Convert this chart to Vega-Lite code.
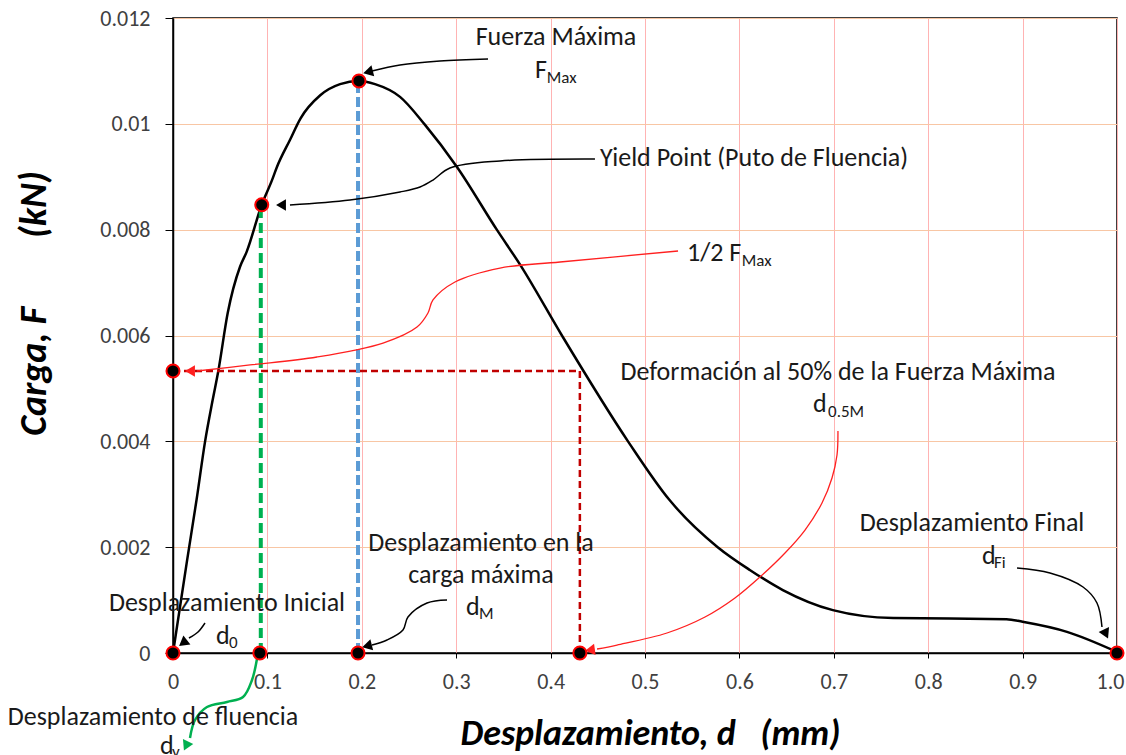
{
  "$schema": "https://vega.github.io/schema/vega-lite/v6.json",
  "width": 944,
  "height": 635,
  "autosize": "none",
  "padding": {"left": 173, "top": 18, "right": 9, "bottom": 102},
  "background": "white",
  "config": {
    "view": {"stroke": "#000", "strokeWidth": 1.5},
    "font": "Carlito, Lato, sans-serif"
  },
  "datasets": {
    "curve": [
      {"x": 0, "y": 0},
      {"x": 0.015, "y": 0.00176},
      {"x": 0.025, "y": 0.0029},
      {"x": 0.034, "y": 0.004},
      {"x": 0.042, "y": 0.00478},
      {"x": 0.048, "y": 0.00533},
      {"x": 0.058, "y": 0.00643},
      {"x": 0.071, "y": 0.0073},
      {"x": 0.078, "y": 0.00758},
      {"x": 0.094, "y": 0.00847},
      {"x": 0.105, "y": 0.00894},
      {"x": 0.11, "y": 0.00918},
      {"x": 0.124, "y": 0.0097},
      {"x": 0.135, "y": 0.0101},
      {"x": 0.156, "y": 0.01054},
      {"x": 0.177, "y": 0.01075},
      {"x": 0.197, "y": 0.01081},
      {"x": 0.214, "y": 0.01075},
      {"x": 0.2405, "y": 0.01051},
      {"x": 0.267, "y": 0.00998},
      {"x": 0.301, "y": 0.00918},
      {"x": 0.343, "y": 0.008},
      {"x": 0.368, "y": 0.00733},
      {"x": 0.412, "y": 0.006},
      {"x": 0.482, "y": 0.004},
      {"x": 0.526, "y": 0.00289},
      {"x": 0.577, "y": 0.002},
      {"x": 0.611, "y": 0.00157},
      {"x": 0.646, "y": 0.00119},
      {"x": 0.699, "y": 0.00081},
      {"x": 0.763, "y": 0.00066},
      {"x": 0.883, "y": 0.00064},
      {"x": 0.9, "y": 0.00059},
      {"x": 0.947, "y": 0.0004},
      {"x": 1.0, "y": 0.00002}
    ],
    "guides": [
      {"g": "fluencia", "i": 0, "x": 0.093, "y": 0},
      {"g": "fluencia", "i": 1, "x": 0.093, "y": 0.00847},
      {"g": "maxima", "i": 0, "x": 0.196, "y": 0},
      {"g": "maxima", "i": 1, "x": 0.196, "y": 0.01081},
      {"g": "mitad", "i": 0, "x": 0, "y": 0.00533},
      {"g": "mitad", "i": 1, "x": 0.431, "y": 0.00533},
      {"g": "mitad", "i": 2, "x": 0.431, "y": 0}
    ],
    "arrows": [
      {"a": "Fmax", "i": 0, "x": 0.3337, "y": 0.011225},
      {"a": "Fmax", "i": 1, "x": 0.2828, "y": 0.011187},
      {"a": "Fmax", "i": 2, "x": 0.2405, "y": 0.011112},
      {"a": "Fmax", "i": 3, "x": 0.2108, "y": 0.010998},
      {"a": "yield", "i": 0, "x": 0.447, "y": 0.009335},
      {"a": "yield", "i": 1, "x": 0.3464, "y": 0.009298},
      {"a": "yield", "i": 2, "x": 0.2934, "y": 0.009165},
      {"a": "yield", "i": 3, "x": 0.2754, "y": 0.008938},
      {"a": "yield", "i": 4, "x": 0.2617, "y": 0.008806},
      {"a": "yield", "i": 5, "x": 0.2405, "y": 0.008712},
      {"a": "yield", "i": 6, "x": 0.1875, "y": 0.00856},
      {"a": "yield", "i": 7, "x": 0.1239, "y": 0.008466},
      {"a": "half", "i": 0, "x": 0.535, "y": 0.007597},
      {"a": "half", "i": 1, "x": 0.41, "y": 0.007389},
      {"a": "half", "i": 2, "x": 0.3464, "y": 0.007275},
      {"a": "half", "i": 3, "x": 0.2987, "y": 0.007011},
      {"a": "half", "i": 4, "x": 0.2754, "y": 0.006671},
      {"a": "half", "i": 5, "x": 0.2701, "y": 0.006425},
      {"a": "half", "i": 6, "x": 0.2585, "y": 0.00616},
      {"a": "half", "i": 7, "x": 0.2225, "y": 0.005858},
      {"a": "half", "i": 8, "x": 0.1525, "y": 0.005594},
      {"a": "half", "i": 9, "x": 0.0816, "y": 0.005443},
      {"a": "half", "i": 10, "x": 0.0254, "y": 0.005329},
      {"a": "d05", "i": 0, "x": 0.7044, "y": 0.004195},
      {"a": "d05", "i": 1, "x": 0.7034, "y": 0.003742},
      {"a": "d05", "i": 2, "x": 0.6981, "y": 0.003307},
      {"a": "d05", "i": 3, "x": 0.6875, "y": 0.002835},
      {"a": "d05", "i": 4, "x": 0.6695, "y": 0.002324},
      {"a": "d05", "i": 5, "x": 0.6483, "y": 0.00189},
      {"a": "d05", "i": 6, "x": 0.6218, "y": 0.001436},
      {"a": "d05", "i": 7, "x": 0.5953, "y": 0.001039},
      {"a": "d05", "i": 8, "x": 0.5636, "y": 0.00068},
      {"a": "d05", "i": 9, "x": 0.5233, "y": 0.000378},
      {"a": "d05", "i": 10, "x": 0.4703, "y": 0.000151},
      {"a": "d05", "i": 11, "x": 0.4492, "y": 0.0000756},
      {"a": "dFi", "i": 0, "x": 0.8941, "y": 0.001606},
      {"a": "dFi", "i": 1, "x": 0.929, "y": 0.001512},
      {"a": "dFi", "i": 2, "x": 0.964, "y": 0.001247},
      {"a": "dFi", "i": 3, "x": 0.9788, "y": 0.000945},
      {"a": "dFi", "i": 4, "x": 0.9841, "y": 0.000491},
      {"a": "dM", "i": 0, "x": 0.2903, "y": 0.001002},
      {"a": "dM", "i": 1, "x": 0.2691, "y": 0.000945},
      {"a": "dM", "i": 2, "x": 0.2489, "y": 0.00068},
      {"a": "dM", "i": 3, "x": 0.2436, "y": 0.000435},
      {"a": "dM", "i": 4, "x": 0.2267, "y": 0.000246},
      {"a": "dM", "i": 5, "x": 0.2108, "y": 0.000151},
      {"a": "d0", "i": 0, "x": 0.0339, "y": 0.000567},
      {"a": "d0", "i": 1, "x": 0.0265, "y": 0.000397},
      {"a": "d0", "i": 2, "x": 0.0169, "y": 0.000283},
      {"a": "dy", "i": 0, "x": 0.09, "y": 0},
      {"a": "dy", "i": 1, "x": 0.0837, "y": -0.00051},
      {"a": "dy", "i": 2, "x": 0.0742, "y": -0.000831},
      {"a": "dy", "i": 3, "x": 0.0572, "y": -0.000926},
      {"a": "dy", "i": 4, "x": 0.036, "y": -0.00102},
      {"a": "dy", "i": 5, "x": 0.0233, "y": -0.001266},
      {"a": "dy", "i": 6, "x": 0.018, "y": -0.001606}
    ],
    "heads": [
      {"a": "Fmax", "x": 0.2066, "y": 0.01098},
      {"a": "yield", "x": 0.1144, "y": 0.008466},
      {"a": "half", "x": 0.018, "y": 0.005329},
      {"a": "d05", "x": 0.4417, "y": 0.0000567},
      {"a": "dFi", "x": 0.9883, "y": 0.000359},
      {"a": "dM", "x": 0.2055, "y": 0.000132},
      {"a": "d0", "x": 0.0106, "y": 0.000189},
      {"a": "dy", "x": 0.0138, "y": -0.001757}
    ],
    "points": [
      {"x": 0, "y": 0},
      {"x": 0.092, "y": 0},
      {"x": 0.196, "y": 0},
      {"x": 0.431, "y": 0},
      {"x": 1.0, "y": 0},
      {"x": 0, "y": 0.00533},
      {"x": 0.094, "y": 0.00847},
      {"x": 0.197, "y": 0.01081}
    ],
    "labels": [
      {"r": "c", "t": "Fuerza Máxima", "x": 0.4057, "y": 0.01164},
      {"r": "l", "t": "F", "x": 0.3835, "y": 0.01102},
      {"r": "s", "t": "Max", "x": 0.396, "y": 0.01087},
      {"r": "l", "t": "Yield Point (Puto de Fluencia)", "x": 0.4523, "y": 0.009354},
      {"r": "l", "t": "1/2 F", "x": 0.5445, "y": 0.00756},
      {"r": "s", "t": "Max", "x": 0.6025, "y": 0.00741},
      {"r": "c", "t": "Deformación al 50% de la Fuerza Máxima", "x": 0.7044, "y": 0.00531},
      {"r": "l", "t": "d", "x": 0.678, "y": 0.004705},
      {"r": "s", "t": "0.5M", "x": 0.6939, "y": 0.004554},
      {"r": "c", "t": "Desplazamiento Final", "x": 0.8464, "y": 0.002457},
      {"r": "l", "t": "d", "x": 0.857, "y": 0.001833},
      {"r": "s", "t": "Fi", "x": 0.8697, "y": 0.001701},
      {"r": "c", "t": "Desplazamiento en la", "x": 0.3263, "y": 0.002079},
      {"r": "c", "t": "carga máxima", "x": 0.3263, "y": 0.001474},
      {"r": "l", "t": "d", "x": 0.3104, "y": 0.000869},
      {"r": "s", "t": "M", "x": 0.3242, "y": 0.000737},
      {"r": "c", "t": "Desplazamiento Inicial", "x": 0.0572, "y": 0.000945},
      {"r": "l", "t": "d", "x": 0.0455, "y": 0.000321},
      {"r": "s", "t": "0", "x": 0.0593, "y": 0.000189},
      {"r": "c", "t": "Desplazamiento de fluencia", "x": -0.0212, "y": -0.00121},
      {"r": "l", "t": "d", "x": -0.0138, "y": -0.00176},
      {"r": "s", "t": "y", "x": -0.001, "y": -0.00188}
    ]
  },
  "encoding": {
    "x": {
      "field": "x",
      "type": "quantitative",
      "scale": {"domain": [0, 1], "nice": false, "zero": false},
      "axis": {
        "values": [0, 0.1, 0.2, 0.3, 0.4, 0.5, 0.6, 0.7, 0.8, 0.9, 1],
        "labelExpr": "datum.value == 1 ? '1.0' : format(datum.value, '~g')",
        "labelOffset": {"condition": {"test": "datum.value == 1", "value": -7}, "value": 0},
        "grid": true,
        "gridColor": "#FFB3B3",
        "gridWidth": 1,
        "domainColor": "#000",
        "domainWidth": 1.5,
        "tickColor": "#000",
        "tickSize": 5,
        "labelFontSize": 22,
        "labelColor": "#404040",
        "labelPadding": 13,
        "labelFlush": false,
        "title": "Desplazamiento,\u00a0d\u00a0\u00a0\u00a0(mm)",
        "titleFontSize": 36,
        "titleFontStyle": "italic",
        "titleFontWeight": "bold",
        "titleColor": "#000",
        "titleX": 477,
        "titleY": 80,
        "titleAlign": "center",
        "titleBaseline": "middle"
      }
    },
    "y": {
      "field": "y",
      "type": "quantitative",
      "scale": {"domain": [0, 0.012], "nice": false, "zero": false},
      "axis": {
        "values": [0, 0.002, 0.004, 0.006, 0.008, 0.01, 0.012],
        "format": "~g",
        "grid": true,
        "gridColor": "#F8C6A4",
        "gridWidth": 1,
        "domainColor": "#000",
        "domainWidth": 1.5,
        "tickColor": "#000",
        "tickSize": 8,
        "labelFontSize": 22,
        "labelColor": "#404040",
        "labelPadding": 15,
        "labelFlush": false,
        "title": "Carga,\u00a0F\u00a0\u00a0\u00a0\u00a0\u00a0\u00a0\u00a0\u00a0(kN)",
        "titleFontSize": 38,
        "titleFontStyle": "italic",
        "titleFontWeight": "bold",
        "titleColor": "#000",
        "titleAngle": -90,
        "titleX": -139,
        "titleY": 285,
        "titleAlign": "center",
        "titleBaseline": "middle"
      }
    }
  },
  "layer": [
    {
      "data": {"name": "curve"},
      "mark": {"type": "line", "color": "#000", "strokeWidth": 2.5, "interpolate": "monotone"},
      "encoding": {}
    },
    {
      "data": {"name": "guides"},
      "transform": [{"filter": "datum.g == 'fluencia'"}],
      "mark": {"type": "line", "color": "#00B050", "strokeWidth": 4, "strokeDash": [10, 5]},
      "encoding": {"order": {"field": "i"}}
    },
    {
      "data": {"name": "guides"},
      "transform": [{"filter": "datum.g == 'maxima'"}],
      "mark": {"type": "line", "color": "#5B9BD5", "strokeWidth": 4, "strokeDash": [10, 4]},
      "encoding": {"order": {"field": "i"}}
    },
    {
      "data": {"name": "guides"},
      "transform": [{"filter": "datum.g == 'mitad'"}],
      "mark": {"type": "line", "color": "#C00000", "strokeWidth": 2.5, "strokeDash": [7, 4]},
      "encoding": {"order": {"field": "i"}}
    },
    {
      "data": {"name": "arrows"},
      "transform": [{"filter": "indexof(['Fmax','yield','dFi','dM','d0'], datum.a) >= 0"}],
      "mark": {"type": "line", "color": "#000", "strokeWidth": 1.5, "interpolate": "catmull-rom"},
      "encoding": {"detail": {"field": "a"}, "order": {"field": "i"}}
    },
    {
      "data": {"name": "arrows"},
      "transform": [{"filter": "datum.a == 'half' || datum.a == 'd05'"}],
      "mark": {"type": "line", "color": "#FF2020", "strokeWidth": 1.3, "interpolate": "catmull-rom"},
      "encoding": {"detail": {"field": "a"}, "order": {"field": "i"}}
    },
    {
      "data": {"name": "arrows"},
      "transform": [{"filter": "datum.a == 'dy'"}],
      "mark": {"type": "line", "color": "#00B050", "strokeWidth": 2.5, "interpolate": "catmull-rom"},
      "encoding": {"order": {"field": "i"}}
    },
    {
      "data": {"name": "heads"},
      "transform": [{"filter": "datum.a == 'Fmax' || datum.a == 'dM'"}],
      "mark": {"type": "point", "shape": "triangle-left", "filled": true, "color": "#000", "size": 130, "angle": -14, "opacity": 1},
      "encoding": {}
    },
    {
      "data": {"name": "heads"},
      "transform": [{"filter": "datum.a == 'yield'"}],
      "mark": {"type": "point", "shape": "triangle-left", "filled": true, "color": "#000", "size": 130, "angle": 0, "opacity": 1},
      "encoding": {}
    },
    {
      "data": {"name": "heads"},
      "transform": [{"filter": "datum.a == 'd0'"}],
      "mark": {"type": "point", "shape": "triangle-left", "filled": true, "color": "#000", "size": 130, "angle": -38, "opacity": 1},
      "encoding": {}
    },
    {
      "data": {"name": "heads"},
      "transform": [{"filter": "datum.a == 'dFi'"}],
      "mark": {"type": "point", "shape": "triangle-down", "filled": true, "color": "#000", "size": 130, "angle": -25, "opacity": 1},
      "encoding": {}
    },
    {
      "data": {"name": "heads"},
      "transform": [{"filter": "datum.a == 'half'"}],
      "mark": {"type": "point", "shape": "triangle-left", "filled": true, "color": "#FF2020", "size": 130, "angle": 0, "opacity": 1},
      "encoding": {}
    },
    {
      "data": {"name": "heads"},
      "transform": [{"filter": "datum.a == 'd05'"}],
      "mark": {"type": "point", "shape": "triangle-left", "filled": true, "color": "#FF2020", "size": 130, "angle": -8, "opacity": 1},
      "encoding": {}
    },
    {
      "data": {"name": "heads"},
      "transform": [{"filter": "datum.a == 'dy'"}],
      "mark": {"type": "point", "shape": "triangle-down", "filled": true, "color": "#00B050", "size": 130, "angle": 25, "opacity": 1},
      "encoding": {}
    },
    {
      "data": {"name": "points"},
      "mark": {"type": "point", "shape": "circle", "filled": true, "fill": "#000", "stroke": "#FF0000", "strokeWidth": 2, "size": 170, "opacity": 1},
      "encoding": {}
    },
    {
      "data": {"name": "labels"},
      "transform": [{"filter": "datum.r == 'c'"}],
      "mark": {"type": "text", "align": "center", "baseline": "middle", "fontSize": 26, "color": "#1a1a1a"},
      "encoding": {"text": {"field": "t"}}
    },
    {
      "data": {"name": "labels"},
      "transform": [{"filter": "datum.r == 'l'"}],
      "mark": {"type": "text", "align": "left", "baseline": "middle", "fontSize": 26, "color": "#1a1a1a"},
      "encoding": {"text": {"field": "t"}}
    },
    {
      "data": {"name": "labels"},
      "transform": [{"filter": "datum.r == 's'"}],
      "mark": {"type": "text", "align": "left", "baseline": "middle", "fontSize": 17, "color": "#1a1a1a"},
      "encoding": {"text": {"field": "t"}}
    }
  ]
}
